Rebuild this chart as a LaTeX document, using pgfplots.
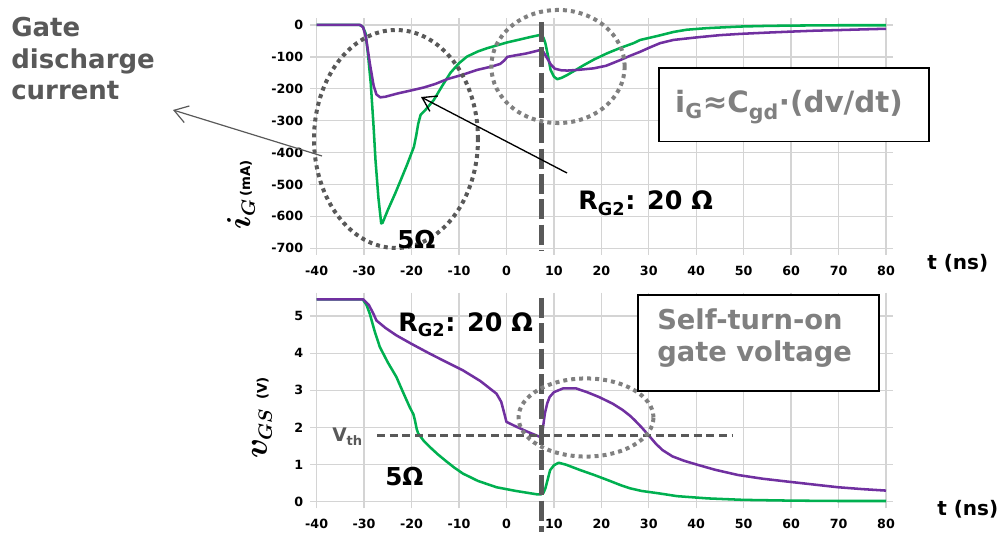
\documentclass[border=0pt]{standalone}
\usepackage{pgfplots}
\pgfplotsset{compat=1.18}
\usepackage{fontspec}
\setmainfont{DejaVu Sans}
\usetikzlibrary{arrows.meta}
\definecolor{cgreen}{RGB}{0,176,80}
\definecolor{cpurple}{RGB}{112,48,160}
\definecolor{dgray}{RGB}{89,89,89}
\definecolor{mgray}{RGB}{128,128,128}
\definecolor{gridc}{RGB}{212,212,212}
\pgfplotsset{
  myax/.style={
    scale only axis, width=427pt, xmin=-40, xmax=80, xtick={-40,-30,...,80},
    grid=major, major grid style={gridc, line width=1pt},
    axis line style={draw=none},
    tick style={gridc, line width=1pt}, tick align=outside, major tick length=5pt,
    /pgf/number format/assume math mode=true,
    ticklabel style={font=\bfseries\fontsize{9.5}{9.5}\selectfont, text=black},
    xticklabel style={anchor=north, inner sep=0pt, yshift=-8pt},
    yticklabel style={anchor=east, inner sep=0pt, xshift=-5pt},
    clip=false,
    every axis plot/.append style={line width=1.9pt, no markers, line join=round},
  }
}
\begin{document}
\begin{tikzpicture}
\useasboundingbox (0,0) rectangle (753.75pt,399pt);
% ---------------- top axis: gate current
\begin{axis}[myax, at={(237.5pt,212.8pt)}, anchor=south west, height=167.5pt,
  ymin=-700, ymax=0, ytick={-700,-600,...,0}]
\addplot[cgreen] coordinates {
(-40,0) (-31,0) (-30.3,-5) (-29.7,-26) (-29.2,-90) (-28.6,-183) (-28,-320) (-27.6,-424) (-27,-540) (-26.4,-622) (-26.1,-620) (-25,-580) (-23.5,-530) (-22.3,-487) (-21,-440) (-19.5,-382) (-19,-345) (-18.6,-310) (-18.1,-282) (-17,-265) (-15.3,-235) (-13.5,-190) (-11.8,-150) (-10,-120) (-8.3,-99) (-6,-83) (-4.1,-73) (-2,-64) (0.1,-55) (3,-45) (5,-38) (7.2,-31) (7.8,-40) (8.2,-57) (8.8,-100) (9.3,-141) (10,-162) (10.7,-170) (11.6,-166) (12.8,-157) (14.5,-142) (16.3,-126) (18.5,-108) (21.2,-89) (24,-72) (26.8,-57) (28.2,-47) (31.7,-35) (35.2,-22) (38,-15) (42.3,-10) (49.3,-5) (55,-3) (60,-2) (70,-1) (80,-1)};
\addplot[cpurple] coordinates {
(-40,0) (-30.8,0) (-30.2,-8) (-29.6,-40) (-28.8,-120) (-28,-190) (-27.4,-218) (-26.6,-227) (-25.5,-225) (-23,-215) (-20,-205) (-17.4,-196) (-15,-185) (-12.5,-170) (-9,-155) (-6.2,-141) (-3,-130) (-1.3,-122) (-0.5,-112) (0.2,-100) (2,-95) (4,-90) (5.7,-84) (7.3,-78) (7.8,-85) (8.6,-105) (9.4,-125) (10.2,-137) (11.5,-142) (12.8,-143) (15,-141) (18.4,-136) (21,-128) (24,-110) (26,-97) (28.2,-84) (30.3,-70) (32.4,-57) (35.2,-47) (40.1,-39) (45,-32) (49.3,-28) (55,-24) (59.8,-21) (65,-18) (70.3,-16) (75,-14) (80,-12)};
\end{axis}
% ---------------- bottom axis: gate voltage
\begin{axis}[myax, at={(237.5pt,22.7pt)}, anchor=south west, height=151.8pt,
  ymin=0, ymax=5.45, ytick={0,1,...,5}]
\addplot[cgreen] coordinates {
(-40,5.45) (-30.3,5.45) (-29.5,5.3) (-28.8,5.06) (-27.8,4.6) (-26.7,4.17) (-25,3.75) (-23.2,3.36) (-21.8,2.95) (-20.4,2.55) (-19.6,2.35) (-19.3,2.2) (-18.9,1.95) (-18.6,1.84) (-17.5,1.65) (-16.2,1.48) (-14.5,1.28) (-12.6,1.08) (-11,0.92) (-9.2,0.76) (-6,0.56) (-2.1,0.39) (2,0.29) (6.4,0.2) (7.3,0.2) (7.8,0.24) (8.2,0.36) (8.7,0.6) (9.2,0.85) (10,0.98) (11,1.05) (12.5,1.0) (15.6,0.85) (18.5,0.72) (21.4,0.58) (24,0.45) (26.1,0.36) (28.5,0.29) (31.9,0.23) (36,0.15) (42.4,0.09) (50,0.05) (60,0.03) (70,0.02) (80,0.02)};
\addplot[cpurple] coordinates {
(-40,5.45) (-30.2,5.45) (-29,5.3) (-28,5.05) (-27.4,4.88) (-25.5,4.68) (-23.2,4.48) (-20,4.25) (-16.2,3.99) (-12.5,3.75) (-9.2,3.54) (-5.5,3.25) (-2.1,2.91) (-1.1,2.69) (-0.5,2.4) (0,2.15) (2.1,2.02) (4.5,1.88) (7,1.75) (7.6,1.9) (8.1,2.38) (8.6,2.65) (9.1,2.82) (10,2.95) (11.9,3.05) (14.7,3.05) (17,2.95) (19.5,2.82) (22.4,2.64) (24.5,2.47) (26,2.32) (27,2.2) (28.5,2.0) (30.1,1.77) (31.5,1.56) (32.9,1.39) (35,1.22) (37.5,1.1) (40.4,0.99) (44,0.86) (48.8,0.72) (54,0.62) (59.4,0.54) (65,0.46) (69.9,0.39) (75,0.34) (80,0.30)};
\end{axis}
% ---------------- annotations (pixel coordinates of the 1005x532 reference)
\begin{scope}[x=0.75pt, y=-0.75pt, yshift=399pt]
% vertical dashed lines
\draw[dgray, line width=3.75pt, dash pattern=on 15pt off 4pt] (541.5,22) -- (541.5,251);
\draw[dgray, line width=3.75pt, dash pattern=on 15pt off 4pt] (541.5,298) -- (541.5,532);
% Vth dashed
\draw[dgray, line width=2pt, dash pattern=on 6pt off 3.5pt] (377,435.7) -- (733,435.7);
\node[anchor=base west, inner sep=0pt, text=dgray, font=\bfseries\fontsize{14}{14}\selectfont] at (332,441.7) {V\textsubscript{th}};
% ellipses
\draw[dgray, line width=3pt, dash pattern=on 3pt off 3pt] (396,139) ellipse [x radius=61.5pt, y radius=81.75pt];
\draw[mgray, line width=3pt, dash pattern=on 3pt off 3pt] (558,66.5) ellipse [x radius=50pt, y radius=42.4pt];
\draw[mgray, line width=3pt, dash pattern=on 3pt off 3pt] (586,417.5) ellipse [x radius=50.6pt, y radius=29.3pt];
% arrows
\draw[dgray, line width=0.9pt, -{Straight Barb[length=10pt,width=13pt]}] (322,156) -- (173,110);
\draw[black, line width=1pt, -{Straight Barb[length=10pt,width=13pt]}] (567,173) -- (421,97);
% Gate discharge current
\begin{scope}[every node/.style={anchor=base west, inner sep=0pt, text=dgray, font=\bfseries\fontsize{19.5}{23}\selectfont}]
\node at (11,36.7) {Gate};
\node at (11,68.3) {discharge};
\node at (11,100) {current};
\end{scope}
% R_G2 labels and 5 ohm labels
\node[anchor=base west, inner sep=0pt, font=\bfseries\fontsize{19}{19}\selectfont] at (578,210) {R\textsubscript{G2}: 20 Ω};
\node[anchor=base west, inner sep=0pt, font=\bfseries\fontsize{19}{19}\selectfont] at (398,331.7) {R\textsubscript{G2}: 20 Ω};
\node[anchor=base west, inner sep=0pt, font=\bfseries\fontsize{18.5}{18.5}\selectfont] at (397,249) {5Ω};
\node[anchor=base west, inner sep=0pt, font=\bfseries\fontsize{18.5}{18.5}\selectfont] at (385,485) {5Ω};
% boxes
\draw[black, line width=1.2pt, fill=white] (659,68.3) rectangle (928.7,141.7);
\node[anchor=base, inner sep=0pt, text=mgray, font=\bfseries\fontsize{22}{22}\selectfont] at (789,113) {i\textsubscript{G}≈C\textsubscript{gd}·(dv/dt)};
\draw[black, line width=1.2pt, fill=white] (638,295) rectangle (878.7,390.7);
\node[anchor=base west, inner sep=0pt, text=mgray, font=\bfseries\fontsize{20.5}{20.5}\selectfont] at (657,330) {Self-turn-on};
\node[anchor=base west, inner sep=0pt, text=mgray, font=\bfseries\fontsize{20.5}{20.5}\selectfont] at (657,361.7) {gate voltage};
% axis labels
\node[rotate=90, inner sep=0pt] at (241,195) {{\fontsize{27}{27}\selectfont\boldmath$i_{\scriptscriptstyle G}$}\,{\bfseries\fontsize{10}{10}\selectfont (mA)}};
\node[rotate=90, inner sep=0pt] at (262,418) {{\fontsize{27}{27}\selectfont\boldmath$v_{\scriptscriptstyle GS}$}\ \ {\bfseries\fontsize{10}{10}\selectfont (V)}};
\node[anchor=base west, inner sep=0pt, font=\bfseries\fontsize{15}{15}\selectfont] at (927,270) {t (ns)};
\node[anchor=base west, inner sep=0pt, font=\bfseries\fontsize{15}{15}\selectfont] at (937,515) {t (ns)};
\end{scope}
\end{tikzpicture}
\end{document}
